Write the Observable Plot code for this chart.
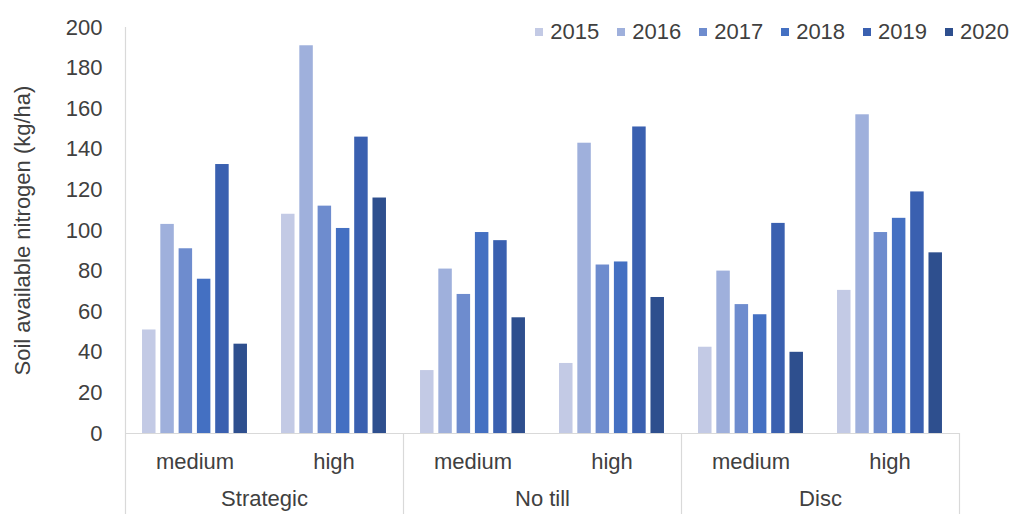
<!DOCTYPE html>
<html><head><meta charset="utf-8">
<script src="https://cdn.jsdelivr.net/npm/d3@7"></script>
<script src="https://cdn.jsdelivr.net/npm/@observablehq/plot@0.6"></script>
<style>
html,body{margin:0;padding:0;background:#fff;overflow:hidden}
#wrap{position:relative;width:1014px;height:514px;font-family:"Liberation Sans",Arial,sans-serif}
#legend{position:absolute;top:19px;right:5px;display:flex;gap:18px;font-size:22px;color:#404040;align-items:center;line-height:26px}
.item{display:flex;align-items:center}
.sw{width:8px;height:8px;margin-right:7px}
</style></head><body><div id="wrap"><div id="legend"></div></div>
<script>
const tillages = ["Strategic", "No till", "Disc"];
const rates = ["medium", "high"];
const years = [2015, 2016, 2017, 2018, 2019, 2020];
const colors = ["#c3cae5", "#9fb0dc", "#6e8cce", "#4470c2", "#3a60b0", "#2e4f8e"];
const yTicks = [0, 20, 40, 60, 80, 100, 120, 140, 160, 180, 200];
const yTitle = "Soil available nitrogen (kg/ha)";

// values per tillage / rate, ordered by year 2015..2020
const strategicMedium = [51, 103, 91, 76, 132.5, 44];
const strategicHigh   = [108, 191, 112, 101, 146, 116];
const noTillMedium    = [31, 81, 68.5, 99, 95, 57];
const noTillHigh      = [34.5, 143, 83, 84.5, 151, 67];
const discMedium      = [42.5, 80, 63.5, 58.5, 103.5, 40];
const discHigh        = [70.5, 157, 99, 106, 119, 89];

const series = {
  "Strategic|medium": strategicMedium, "Strategic|high": strategicHigh,
  "No till|medium": noTillMedium, "No till|high": noTillHigh,
  "Disc|medium": discMedium, "Disc|high": discHigh
};
const keys = tillages.flatMap(t => rates.map(r => t + "|" + r));
const rows = keys.flatMap(k => series[k].map((v, j) => ({key: k, j, year: years[j], value: v})));

const xDomain = [-0.8, years.length + 0.8];
const yBottom = -40;
const dividers = [
  {key: keys[0], x: xDomain[0], top: yTicks[yTicks.length - 1]},
  ...tillages.slice(1).map(t => ({key: t + "|" + rates[0], x: xDomain[0], top: 0})),
  {key: keys[keys.length - 1], x: xDomain[1], top: 0}
];
const groupLabels = tillages.map(t => ({key: t + "|" + rates[0], text: t}));

const chart = Plot.plot({
  width: 1014, height: 514,
  marginLeft: 123, marginRight: 53, marginTop: 27, marginBottom: 81,
  style: {fontFamily: "Liberation Sans, Arial, sans-serif", fontSize: "22px", color: "#404040", background: "transparent"},
  fx: {domain: keys, padding: 0, label: null, tickSize: 0, tickPadding: 20, tickFormat: d => d.split("|")[1]},
  x: {domain: xDomain, axis: null},
  y: {domain: [0, 200], ticks: yTicks, tickSize: 0, tickPadding: 23, label: yTitle, labelAnchor: "center", labelOffset: 111, labelArrow: "none"},
  color: {type: "ordinal", domain: years, range: colors},
  marks: [
    Plot.rect(rows, {fx: "key", x1: "j", x2: d => d.j + 1, y1: 0, y2: "value", fill: "year", insetLeft: 2.4, insetRight: 2.4}),
    Plot.ruleY([0], {stroke: "#d9d9d9", strokeWidth: 1.2}),
    Plot.ruleX(dividers, {fx: "key", x: "x", y1: "top", y2: yBottom, stroke: "#d9d9d9", strokeWidth: 1.2}),
    Plot.text(groupLabels, {fx: "key", text: "text", frameAnchor: "bottom-right", textAnchor: "middle", dy: 72, fill: "#404040", fontSize: 22})
  ]
});
chart.style.position = "absolute";
chart.style.left = "0";
chart.style.top = "0";
const wrap = document.getElementById("wrap");
wrap.insertBefore(chart, wrap.firstChild);

const legend = document.getElementById("legend");
years.forEach((y, i) => {
  const it = document.createElement("div");
  it.className = "item";
  const sw = document.createElement("span");
  sw.className = "sw";
  sw.style.background = colors[i];
  const tx = document.createElement("span");
  tx.textContent = y;
  it.appendChild(sw); it.appendChild(tx);
  legend.appendChild(it);
});
</script></body></html>
